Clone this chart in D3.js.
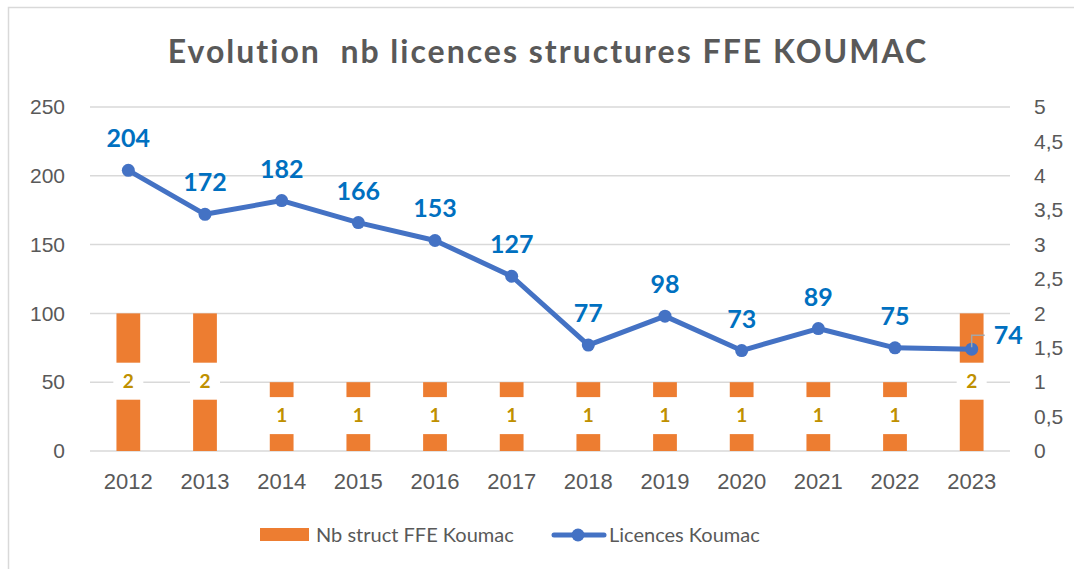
<!DOCTYPE html>
<html>
<head>
<meta charset="utf-8">
<script src="https://cdn.jsdelivr.net/npm/d3@7"></script>
<style>
  body { margin: 0; background: #fff; }
  svg { font-family: Lato, "Open Sans", sans-serif; }
  .axis text { fill: #595959; }
</style>
</head>
<body>
<div id="chart"></div>
<script>
const years = ["2012", "2013", "2014", "2015", "2016", "2017", "2018", "2019", "2020", "2021", "2022", "2023"];
const licences = [204, 172, 182, 166, 153, 127, 77, 98, 73, 89, 75, 74];
const structures = [2, 2, 1, 1, 1, 1, 1, 1, 1, 1, 1, 2];
const leftTicks = [0, 50, 100, 150, 200, 250];
const rightTicks = [0, 0.5, 1, 1.5, 2, 2.5, 3, 3.5, 4, 4.5, 5];

const width = 1074, height = 569;
const plot = { left: 90, right: 1010, top: 107, bottom: 451 };

const svg = d3.select("#chart").append("svg")
  .attr("width", width).attr("height", height);

// chart frame (right & bottom edges fall outside the picture)
svg.append("rect").attr("x", 8.5).attr("y", 7.5).attr("width", 1100).attr("height", 600)
  .attr("fill", "#fff").attr("stroke", "#d9d9d9").attr("stroke-width", 1.5);

const x = d3.scaleBand().domain(years).range([plot.left, plot.right])
  .paddingInner(0.69).paddingOuter(0.345);
const yL = d3.scaleLinear().domain([0, 250]).range([plot.bottom, plot.top]);
const yR = d3.scaleLinear().domain([0, 5]).range([plot.bottom, plot.top]);
const cx = d => x(d) + x.bandwidth() / 2;

// title
svg.append("text").attr("x", 548).attr("y", 63).attr("text-anchor", "middle")
  .style("white-space", "pre").style("letter-spacing", "2px")
  .attr("font-size", 32).attr("font-weight", "bold").attr("fill", "#595959")
  .text("Evolution  nb licences structures FFE KOUMAC");

// gridlines
svg.append("g").selectAll("line").data(leftTicks).enter().append("line")
  .attr("x1", plot.left).attr("x2", plot.right)
  .attr("y1", d => yL(d)).attr("y2", d => yL(d))
  .attr("stroke", "#d9d9d9").attr("stroke-width", 1.5);

// axes
const axL = svg.append("g").attr("class", "axis").attr("transform", "translate(65,0)")
  .call(d3.axisLeft(yL).tickValues(leftTicks).tickSize(0).tickPadding(0));
const axR = svg.append("g").attr("class", "axis").attr("transform", "translate(1034,0)")
  .call(d3.axisRight(yR).tickValues(rightTicks).tickSize(0).tickPadding(0)
    .tickFormat(d => String(d).replace(".", ",")));
const axX = svg.append("g").attr("class", "axis").attr("transform", "translate(0," + plot.bottom + ")")
  .call(d3.axisBottom(x).tickSize(0).tickPadding(22));
[axL, axR].forEach(a => a.selectAll("text").attr("font-size", 21));
axX.selectAll("text").attr("font-size", 22);
[axL, axR, axX].forEach(a => a.select(".domain").remove());

// bars
svg.append("g").selectAll("rect").data(structures).enter().append("rect")
  .attr("x", (d, i) => x(years[i])).attr("width", x.bandwidth())
  .attr("y", d => yR(d)).attr("height", d => plot.bottom - yR(d))
  .attr("fill", "#ED7D31");

// bar labels with white box
const barLab = svg.append("g").selectAll("g").data(structures).enter().append("g")
  .attr("transform", (d, i) => "translate(" + cx(years[i]) + "," + (yR(d / 2) - 1) + ")");
barLab.append("rect").attr("x", -15).attr("y", -18.5).attr("width", 30).attr("height", 37).attr("fill", "#fff");
barLab.append("text").attr("text-anchor", "middle").attr("dy", "0.36em")
  .attr("font-size", 19).attr("font-weight", "bold").attr("fill", "#BF9000")
  .text(d => d);

// line
const line = d3.line().x((d, i) => cx(years[i])).y(d => yL(d));
svg.append("path").datum(licences).attr("d", line)
  .attr("fill", "none").attr("stroke", "#4472C4").attr("stroke-width", 5)
  .attr("stroke-linejoin", "round").attr("stroke-linecap", "round");
svg.append("g").selectAll("circle").data(licences).enter().append("circle")
  .attr("cx", (d, i) => cx(years[i])).attr("cy", d => yL(d)).attr("r", 6.5)
  .attr("fill", "#4472C4");

// line labels (last one is moved to the right with a leader line)
const last = licences.length - 1;
const lx = cx(years[last]), ly = yL(licences[last]);
svg.append("path")
  .attr("d", "M" + lx + "," + (ly - 2) + "V" + (ly - 14) + "H" + (lx + 13))
  .attr("fill", "none").attr("stroke", "#A6A6A6").attr("stroke-width", 1.5);
svg.append("g").selectAll("text").data(licences).enter().append("text")
  .attr("x", (d, i) => i === last ? lx + 22 : cx(years[i]))
  .attr("y", (d, i) => i === last ? ly - 5 : yL(d) - 23)
  .attr("text-anchor", (d, i) => i === last ? "start" : "middle")
  .attr("font-size", 25).attr("font-weight", "bold").attr("fill", "#0070C0")
  .text(d => d);

// legend
const leg = svg.append("g").attr("font-size", 20).attr("fill", "#595959");
leg.append("rect").attr("x", 260).attr("y", 528).attr("width", 49).attr("height", 13).attr("fill", "#ED7D31");
leg.append("text").attr("x", 316).attr("y", 542).text("Nb struct FFE Koumac");
leg.append("line").attr("x1", 554).attr("x2", 604).attr("y1", 535).attr("y2", 535)
  .attr("stroke", "#4472C4").attr("stroke-width", 5).attr("stroke-linecap", "round");
leg.append("circle").attr("cx", 578).attr("cy", 535).attr("r", 6.5).attr("fill", "#4472C4");
leg.append("text").attr("x", 609).attr("y", 542).text("Licences Koumac");
</script>
</body>
</html>
